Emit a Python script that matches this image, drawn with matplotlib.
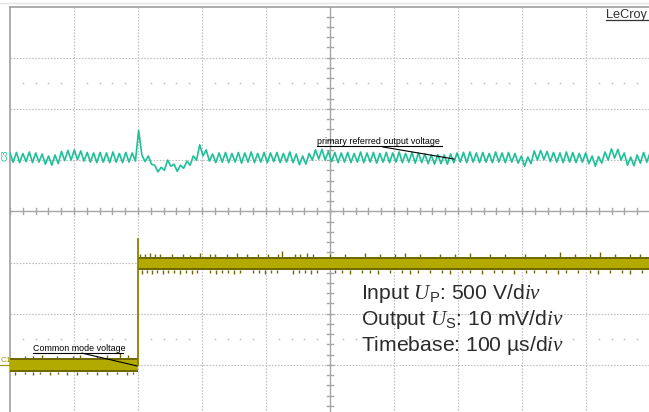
import numpy as np
import matplotlib
matplotlib.use("Agg")
import matplotlib.pyplot as plt
from matplotlib.lines import Line2D

plt.rcParams["font.family"] = ["Liberation Sans", "DejaVu Sans"]
plt.rcParams["mathtext.fontset"] = "custom"
plt.rcParams["mathtext.rm"] = "Liberation Sans"
plt.rcParams["mathtext.it"] = "Liberation Serif:italic"
plt.rcParams["mathtext.bf"] = "Liberation Sans:bold"

# Screen: 10 horizontal divisions of 100 us, 8 vertical divisions
T_DIV = 100.0
N_XDIV = 10
N_YDIV = 8

# C3 - primary referred output voltage, in divisions, uniform samples across the screen
c3_div = [
    1.14, 0.96, 1.15, 0.95, 1.13, 0.97, 1.16, 0.95, 1.14, 0.96,
    1.12, 0.92, 1.08, 0.90, 1.10, 0.93, 1.17, 0.99, 1.19, 1.00,
    1.20, 1.01, 1.18, 0.98, 1.15, 0.96, 1.14, 0.95, 1.15, 0.96,
    1.14, 0.95, 1.16, 0.96, 1.13, 0.95, 1.15, 0.96, 1.14, 0.98,
    1.58, 1.10, 0.97, 1.08, 0.92, 0.90, 0.77, 0.86, 0.80, 1.00,
    0.88, 0.92, 0.78, 0.90, 0.84, 0.98, 0.90, 1.08, 1.00, 1.30,
    1.08, 1.20, 0.98, 1.12, 0.95, 1.14, 0.96, 1.15, 0.95, 1.13,
    0.96, 1.15, 0.94, 1.14, 0.96, 1.16, 0.95, 1.13, 0.96, 1.15,
    0.95, 1.14, 0.97, 1.15, 0.95, 1.13, 0.96, 1.16, 0.95, 1.12,
    0.91, 1.08, 0.92, 1.13, 1.00, 1.20, 1.02, 1.21, 1.00, 1.17,
    0.97, 1.15, 0.95, 1.14, 0.96, 1.15, 0.95, 1.13, 0.96, 1.16,
    0.95, 1.14, 0.96, 1.15, 0.94, 1.13, 0.96, 1.15, 0.95, 1.14,
    0.96, 1.16, 0.95, 1.13, 0.96, 1.15, 0.94, 1.14, 0.95, 1.12,
    0.93, 1.10, 0.92, 1.11, 0.93, 1.10, 0.92, 1.12, 0.95, 1.14,
    0.96, 1.15, 0.95, 1.16, 0.96, 1.14, 0.95, 1.15, 0.96, 1.13,
    0.95, 1.16, 0.96, 1.14, 0.95, 1.15, 0.96, 1.13, 0.94, 1.08,
    0.88, 1.06, 0.93, 1.18, 1.00, 1.19, 1.01, 1.17, 0.97, 1.15,
    0.96, 1.14, 0.95, 1.16, 0.96, 1.15, 0.95, 1.13, 0.96, 1.14,
    0.93, 1.08, 0.88, 1.07, 0.94, 1.16, 1.00, 1.22, 1.04, 1.21,
    1.00, 1.14, 0.90, 1.06, 0.89, 1.10, 0.94, 1.15, 0.96, 1.14,
]

# C1 - common mode voltage (divisions) and switching instant (us)
c1_level_before = -3.00
c1_level_after = -1.02
c1_step_time = -300.0
c1_step_peak = -0.54

# Noise spikes on the upper edge of C1 (time in us, height in divisions)
c1_up_t = [-477, -464, -450, -427, -402, -391, -364, -348, -328, -315,
           -297, -289, -281, -273, -266, -247, -230, -219, -203, -188,
           -180, -161, -145, -130, -113, -97, -81, -75, -55, -47,
           -36, -27, 0, 23, 55, 78, 102, 117, 141, 172,
           195, 219, 250, 273, 305, 336, 359, 383, 406, 422,
           445, 469, 484]
c1_up_h = [0.05, 0.04, 0.06, 0.05, 0.04, 0.06, 0.05, 0.07, 0.10, 0.06,
           0.06, 0.05, 0.07, 0.05, 0.06, 0.05, 0.06, 0.04, 0.07, 0.05,
           0.06, 0.05, 0.07, 0.06, 0.05, 0.06, 0.05, 0.12, 0.06, 0.05,
           0.07, 0.05, 0.06, 0.05, 0.07, 0.06, 0.05, 0.08, 0.05, 0.06,
           0.05, 0.07, 0.06, 0.05, 0.06, 0.05, 0.09, 0.05, 0.06, 0.10,
           0.05, 0.06, 0.05]

# Noise spikes on the lower edge of C1
c1_dn_t = [-492, -477, -464, -453, -438, -425, -411, -395, -380, -364,
           -348, -333, -317, -308,
           -294, -286, -278, -270, -261, -253, -244, -234, -225, -216,
           -208, -188, -178, -169, -159, -150, -141, -120, -111, -102,
           -92, -83, -58, -48, -39, -30, -20,
           8, 19, 31, 50, 63, 75, 94, 113, 125, 138,
           156, 175, 188, 206, 219, 238, 256, 269, 288, 306,
           319, 338, 356, 369, 388, 406, 419, 438, 456, 469,
           488]
c1_dn_h = [0.06, 0.05, 0.07, 0.05, 0.06, 0.05, 0.07, 0.06, 0.05, 0.06,
           0.07, 0.05, 0.06, 0.05,
           0.07, 0.06, 0.08, 0.05, 0.07, 0.06, 0.05, 0.07, 0.06, 0.08,
           0.05, 0.06, 0.07, 0.05, 0.06, 0.08, 0.05, 0.06, 0.05, 0.07,
           0.06, 0.05, 0.07, 0.05, 0.06, 0.08, 0.05,
           0.06, 0.05, 0.07, 0.05, 0.06, 0.08, 0.05, 0.06, 0.07, 0.05,
           0.06, 0.05, 0.07, 0.06, 0.05, 0.08, 0.06, 0.05, 0.07, 0.05,
           0.06, 0.05, 0.07, 0.06, 0.05, 0.06, 0.08, 0.05, 0.06, 0.07,
           0.05]

info_lines = [
    r"Input $U_\mathrm{P}$: 500 V/d$iv$",
    r"Output $U_\mathrm{S}$: 10 mV/d$iv$",
    r"Timebase: 100 µs/d$iv$",
]

C3_COLOR = "#1fc097"
C1_CORE = "#b3aa00"
C1_EDGE = "#6f6900"
GRID = "#bdbdbd"
AXIS = "#a6a6a6"

W, H = 649, 412
fig = plt.figure(figsize=(W / 100, H / 100), dpi=100)
fig.patch.set_facecolor("white")

# graticule area: 640 x 409.6 px, left edge at x=10, top at y=6.5
ax = fig.add_axes([10 / W, (H - 416.1) / H, 640 / W, 409.6 / H])
t_half = T_DIV * N_XDIV / 2
v_half = N_YDIV / 2
ax.set_xlim(-t_half, t_half)
ax.set_ylim(-v_half, v_half)
ax.set_xticks([])
ax.set_yticks([])
for side in ("right", "bottom"):
    ax.spines[side].set_visible(False)
for side in ("left", "top"):
    ax.spines[side].set_color("#a0a0a0")
    ax.spines[side].set_linewidth(1.2)

# dotted grid
for k in range(1, N_XDIV):
    t = -t_half + k * T_DIV
    if t != 0:
        ax.axvline(t, color=GRID, lw=0.8, ls=(0, (1.4, 1.4)), zorder=1)
for k in range(1, N_YDIV):
    v = -v_half + k
    if v != 0:
        ax.axhline(v, color=GRID, lw=0.8, ls=(0, (1.4, 1.4)), zorder=1)

# sub-division dots on the +-2.5 div rows
sub_t = [t for t in np.arange(-t_half, t_half + 1, T_DIV / 5) if t % T_DIV != 0]
for v in (2.5, -2.5):
    ax.plot(sub_t, [v] * len(sub_t), ls="none", marker="s", ms=1.1, mew=0,
            color="#bdbdbd", zorder=1)

# centre cross with tick marks
ax.axhline(0, color=AXIS, lw=1.0, zorder=1)
ax.axvline(0, color=AXIS, lw=1.0, zorder=1)
for t in np.arange(-t_half, t_half + 1, T_DIV / 5):
    ax.plot([t, t], [-0.06, 0.06], color=AXIS, lw=1.0, zorder=1)
for v in np.arange(-v_half, v_half + 0.01, 0.2):
    ax.plot([-4.7, 4.7], [v, v], color=AXIS, lw=1.0, zorder=1)

# C1 trace: thick noisy band with the voltage step
core = 0.09
edge = 0.13
segments = [((-t_half, c1_step_time), c1_level_before),
            ((c1_step_time, t_half), c1_level_after)]
for (t0, t1), lvl in segments:
    ax.fill_between([t0, t1], lvl - edge, lvl + edge, color=C1_EDGE, lw=0, zorder=3)
    ax.fill_between([t0, t1], lvl - core, lvl + core, color=C1_CORE, lw=0, zorder=3)
ax.plot([c1_step_time, c1_step_time], [c1_level_before, c1_step_peak],
        color="#8a8300", lw=1.3, zorder=3)


def c1_level(t):
    return c1_level_before if t < c1_step_time else c1_level_after


up_base = [c1_level(t) + edge for t in c1_up_t]
ax.vlines(c1_up_t, up_base, [b + h for b, h in zip(up_base, c1_up_h)],
          color=C1_EDGE, lw=1.0, zorder=3)
dn_base = [c1_level(t) - edge for t in c1_dn_t]
ax.vlines(c1_dn_t, [b - h for b, h in zip(dn_base, c1_dn_h)], dn_base,
          color=C1_EDGE, lw=1.0, zorder=3)

# C3 trace
t3 = np.linspace(-t_half, t_half, len(c3_div))
ax.plot(t3, c3_div, color=C3_COLOR, lw=1.2, zorder=4)

# annotations
ax.text(-21, 1.314, "primary referred output voltage", fontsize=6.4,
        color="black", va="baseline", ha="left", zorder=6)
ax.plot([-21, 175], [1.266, 1.266], color="black", lw=0.8, zorder=6)
ax.plot([82.8, 193.8], [1.256, 1.021], color="black", lw=0.8, zorder=6)

ax.text(-464, -2.73, "Common mode voltage", fontsize=6.4,
        color="black", va="baseline", ha="left", zorder=6)
ax.plot([-464, -323], [-2.77, -2.77], color="black", lw=0.8, zorder=6)
ax.plot([-387.5, -301.6], [-2.77, -3.02], color="black", lw=0.8, zorder=6)

for line, v in zip(info_lines, (-1.719, -2.221, -2.719)):
    ax.text(48.4, v, line, fontsize=15.2, color="#2b2b2b",
            va="baseline", ha="left", zorder=6)

# screen frame and labels outside the graticule
fig.add_artist(Line2D([0, 1], [1 - 3 / H] * 2, color="#e4e4e4", lw=1.0))
fig.text(606 / W, 1 - 17.7 / H, "LeCroy", fontsize=9.2, color="#333333",
         va="baseline", ha="left")
fig.add_artist(Line2D([606 / W, 648 / W], [1 - 19.8 / H] * 2, color="#333333", lw=0.9))

fig.text(4.5 / W, 1 - 155 / H, "C3", fontsize=6.5, color=C3_COLOR,
         rotation=90, va="center", ha="center")
fig.text(0.5 / W, 1 - 362.5 / H, "C1", fontsize=6.0, color="#a09800",
         va="baseline", ha="left")
fig.add_artist(Line2D([0, 9 / W], [1 - 364.5 / H] * 2, color="#a09800", lw=0.9))

fig.savefig("out.png", dpi=100, facecolor="white")
